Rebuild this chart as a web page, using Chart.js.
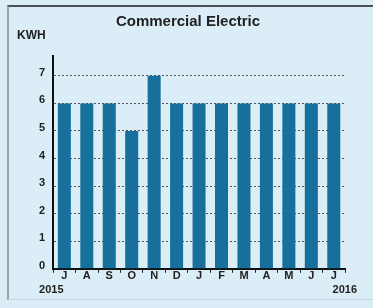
<!DOCTYPE html>
<html>
<head>
<meta charset="utf-8">
<script src="https://cdn.jsdelivr.net/npm/chart.js@4.4.1/dist/chart.umd.min.js"></script>
<style>
  html, body { margin: 0; padding: 0; background: #dbeef7; }
  #wrap { position: relative; width: 373px; height: 308px; background: #dbeef7; }
  #frame { position: absolute; left: 7px; top: 5px; width: 366px; height: 295px;
           border-left: 2px solid #9aa4aa; border-top: 2px solid #4a5258; border-bottom: 1px solid #c6d6de; box-sizing: border-box; pointer-events: none; }
  canvas { position: absolute; left: 0; top: 0; }
</style>
</head>
<body>
<div id="wrap">
  <canvas id="c" width="373" height="308"></canvas>
  <div id="frame"></div>
</div>
<script>
const categories = ["J", "A", "S", "O", "N", "D", "J", "F", "M", "A", "M", "J", "J"];
const kwhValues = [6, 6, 6, 5, 7, 6, 6, 6, 6, 6, 6, 6, 6];
const yTickValues = [0, 1, 2, 3, 4, 5, 6, 7];
const yearLabels = ["2015", "2016"];
const chartTitle = "Commercial Electric";
const axisUnit = "KWH";

const FONT = '"Liberation Sans", Arial, sans-serif';

const extraText = {
  id: 'extraText',
  afterDraw(chart) {
    const ctx = chart.ctx;
    const x = chart.scales.x;
    ctx.save();
    ctx.fillStyle = '#222';
    ctx.font = 'bold 12px ' + FONT;
    ctx.textAlign = 'left';
    ctx.textBaseline = 'middle';
    ctx.fillText(axisUnit, 17, 36);
    ctx.font = 'bold 11px ' + FONT;
    ctx.textAlign = 'center';
    const first = x.getPixelForValue(0);
    const last = x.getPixelForValue(categories.length - 1);
    ctx.fillText(yearLabels[0], first - 13, 290);
    ctx.fillText(yearLabels[1], last + 11, 290);
    ctx.restore();
  }
};

new Chart(document.getElementById('c'), {
  type: 'bar',
  data: {
    labels: categories,
    datasets: [{
      data: kwhValues,
      backgroundColor: '#17709b',
      borderWidth: 0,
      barPercentage: 0.58,
      categoryPercentage: 1.0
    }]
  },
  options: {
    responsive: false,
    animation: false,
    layout: { padding: { left: 31, right: 28, top: 0, bottom: 28 } },
    plugins: {
      legend: { display: false },
      tooltip: { enabled: false },
      title: {
        display: true,
        text: chartTitle,
        color: '#222',
        font: { family: FONT, size: 15, weight: 'bold' },
        padding: { top: 13, bottom: 25 }
      }
    },
    scales: {
      y: {
        min: 0,
        max: 7.72,
        afterBuildTicks(scale) { scale.ticks = yTickValues.map(v => ({ value: v })); },
        ticks: {
          color: '#222',
          padding: 8,
          labelOffset: -3,
          font: { family: FONT, size: 11, weight: 'bold' }
        },
        grid: {
          drawTicks: false,
          color: (ctx) => ctx.tick && ctx.tick.value === 0 ? 'rgba(0,0,0,0)' : '#555',
          lineWidth: 1
        },
        border: { color: '#111', width: 2, dash: [2, 2] }
      },
      x: {
        ticks: {
          color: '#222',
          padding: -3,
          font: { family: FONT, size: 11, weight: 'bold' }
        },
        grid: {
          drawOnChartArea: false,
          drawTicks: true,
          tickLength: 4,
          color: '#222'
        },
        border: { color: '#111', width: 2 }
      }
    }
  },
  plugins: [extraText]
});
</script>
</body>
</html>
